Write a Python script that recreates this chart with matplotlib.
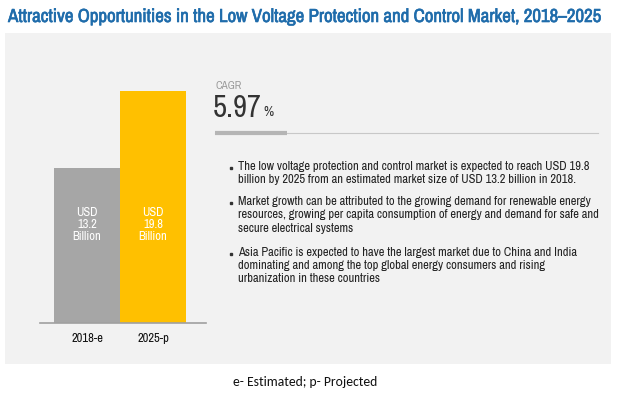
import matplotlib
matplotlib.use("Agg")
import matplotlib.pyplot as plt
import matplotlib.patheffects as pe
from matplotlib.patches import Rectangle

# Datos
years = ["2018-e", "2025-p"]
values = [13.2, 19.8]
bar_labels = ["USD\n13.2\nBillion", "USD\n19.8\nBillion"]
bar_colors = ["#a6a6a6", "#ffc000"]
cagr = "5.97"
bullets = [
    "The low voltage protection and control market is expected to reach USD 19.8\n"
    "billion by 2025 from an estimated market size of USD 13.2 billion in 2018.",
    "Market growth can be attributed to the growing demand for renewable energy\n"
    "resources, growing per capita consumption of energy and demand for safe and\n"
    "secure electrical systems",
    "Asia Pacific is expected to have the largest market due to China and India\n"
    "dominating and among the top global energy consumers and rising\n"
    "urbanization in these countries",
]
title = "Attractive Opportunities in the Low Voltage Protection and Control Market, 2018\u20132025"
footnote = "e- Estimated; p- Projected"

narrow = ["Archivo Narrow", "DejaVu Sans"]
W, H = 621, 396

fig = plt.figure(figsize=(W / 100, H / 100), dpi=100)
fig.patch.set_facecolor("white")

# Capa de fondo en coordenadas de pixel
bg = fig.add_axes([0, 0, 1, 1])
bg.set_xlim(0, W)
bg.set_ylim(H, 0)
bg.axis("off")
bg.add_patch(Rectangle((5, 33), 606, 331, facecolor="#f2f2f2", edgecolor="none"))

bg.text(8, 17, title, color="#1f6cab", fontsize=13.6, family=narrow,
        va="center", ha="left",
        path_effects=[pe.withStroke(linewidth=0.45, foreground="#1f6cab")])

# CAGR
bg.text(215, 86, "CAGR", color="#9a9a9a", fontsize=8, family=narrow, va="center")
bg.text(213, 108, cagr, color="#333333", fontsize=22, family=narrow, va="center")
bg.text(263, 112, "%", color="#333333", fontsize=10, family=narrow, va="center")
bg.plot([215, 598], [133, 133], color="#c8c8c8", lw=0.8)
bg.plot([215, 287], [133, 133], color="#b5b5b5", lw=3, solid_capstyle="butt")

# Viñetas
y0 = [168, 203, 254]
for y, txt in zip(y0, bullets):
    bg.plot(231, y, marker="s", markersize=2.1, color="#333333")
    bg.text(238, y - 7, txt, color="#222222", fontsize=9, family=narrow,
            va="top", linespacing=1.25)

bg.text(305, 382, footnote, color="#111111", fontsize=9.8, family=["Carlito", "DejaVu Sans"],
        ha="center", va="center")

# Barras
ax = fig.add_axes([40 / W, (H - 323) / H, 166 / W, 273 / H])
ax.patch.set_alpha(0)
x = range(len(values))
ax.bar(x, values, width=1.0, color=bar_colors)
ax.set_xlim(-0.5 - 14 / 66, 1.5 + 20 / 66)
ax.set_ylim(0, 273 / 11.74)
for s in ["top", "right", "left"]:
    ax.spines[s].set_visible(False)
ax.spines["bottom"].set_color("#a0a0a0")
ax.spines["bottom"].set_linewidth(1.2)
ax.set_yticks([])
ax.set_xticks(list(x))
ax.set_xticklabels(years, family=narrow, fontsize=9, color="#111111")
ax.tick_params(axis="x", length=0, pad=7)
for i, lab in enumerate(bar_labels):
    ax.text(i, 8.4, lab, color="white", ha="center", va="center",
            fontsize=9, family=narrow, linespacing=1.15)

fig.savefig("out.png", dpi=100, facecolor="white")
